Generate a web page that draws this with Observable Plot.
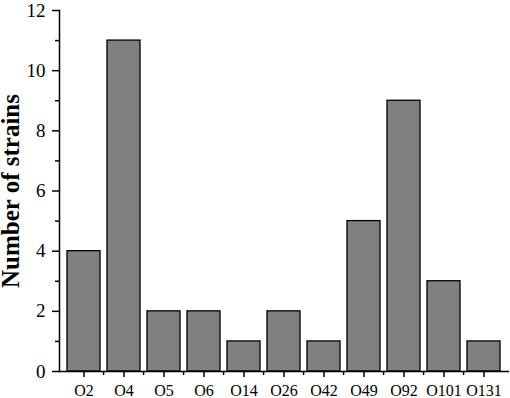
<!DOCTYPE html>
<html>
<head>
<meta charset="utf-8">
<script src="https://cdn.jsdelivr.net/npm/d3@7"></script>
<script src="https://cdn.jsdelivr.net/npm/@observablehq/plot@0.6"></script>
<style>
  body { margin: 0; background: #fff; }
</style>
</head>
<body>
<div id="chart"></div>
<script>
const categories = ["O2", "O4", "O5", "O6", "O14", "O26", "O42", "O49", "O92", "O101", "O131"];
const counts = [4, 11, 2, 2, 1, 2, 1, 5, 9, 3, 1];
const majorTicks = [0, 2, 4, 6, 8, 10, 12];
const minorTicks = [1, 3, 5, 7, 9, 11];

const data = categories.map((c, i) => ({serotype: c, n: counts[i]}));
const step = 449 / 11;

const plot = Plot.plot({
  width: 510, height: 398, marginLeft: 59, marginRight: 2, marginTop: 10, marginBottom: 27,
  style: {color: "#000", background: "#fff", fontFamily: "Liberation Serif"},
  x: {domain: categories, paddingInner: 0.17, paddingOuter: 0.085},
  y: {domain: [0, 12]},
  marks: [
    Plot.barY(data, {x: "serotype", y: "n", fill: "#808080", stroke: "#000", strokeWidth: 1.3}),
    Plot.axisY({ticks: majorTicks, tickSize: 7, tickPadding: 7, strokeWidth: 1.5, fontSize: 19,
      label: "Number of strains", labelAnchor: "center", labelOffset: 58, labelArrow: "none"}),
    Plot.axisY({ticks: minorTicks, tickSize: 4, strokeWidth: 1.5, text: null, label: null}),
    Plot.axisX({ticks: categories, tickSize: 6, tickPadding: 7, strokeWidth: 1.5, fontSize: 16, label: null}),
    Plot.axisX({ticks: categories.slice(1), tickSize: 4, dx: -step / 2, strokeWidth: 1.5, text: null, label: null}),
    Plot.frame({anchor: "left", strokeWidth: 1.5}),
    Plot.frame({anchor: "bottom", strokeWidth: 1.5})
  ]
});
document.getElementById("chart").appendChild(plot);
d3.select(plot).selectAll("g").each(function() {
  const lab = this.getAttribute("aria-label") || "";
  const g = d3.select(this);
  const size = lab === "y-axis tick label" ? 19 : lab === "x-axis tick label" ? 16 : lab === "y-axis label" ? 25 : null;
  if (size) {
    g.attr("font-size", size).style("font-size", size + "px");
    g.selectAll("text").attr("font-size", size).style("font-size", size + "px");
  }
  if (lab === "y-axis label") g.selectAll("text").attr("font-weight", "bold").style("font-weight", "bold");
  getComputedStyle(this).fontSize;
});
</script>
</body>
</html>
